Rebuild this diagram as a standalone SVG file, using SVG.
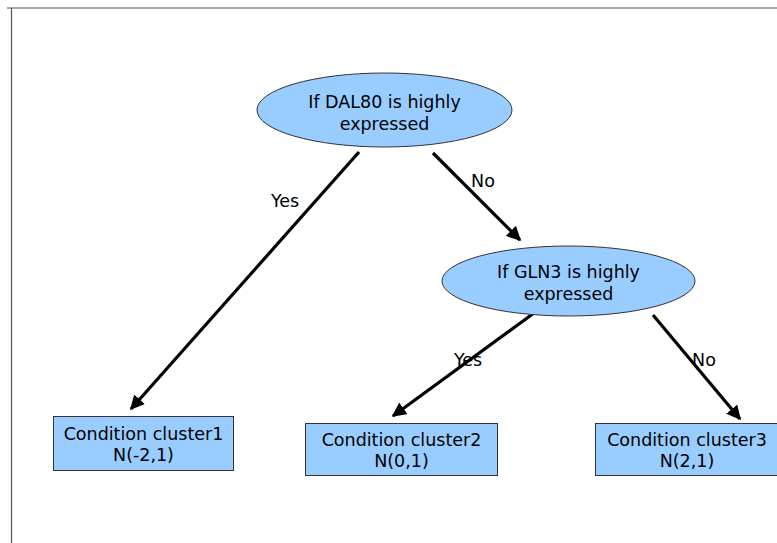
<svg xmlns="http://www.w3.org/2000/svg" width="777" height="543" viewBox="0 0 777 543">
<defs>
<marker id="ah" viewBox="0 0 10 10" refX="9" refY="5" markerWidth="4.5" markerHeight="4.5" orient="auto" markerUnits="strokeWidth">
<path d="M0,0 L10,5 L0,10 Z" fill="#000"/>
</marker>
<style>
.n{fill:#99ccff;stroke:#333;stroke-width:1}
.t{font-family:"DejaVu Sans",sans-serif;font-size:17.5px;fill:#000;text-anchor:middle}
.c{stroke:#000;stroke-width:3.2;fill:none;marker-end:url(#ah)}
</style>
</defs>
<rect width="777" height="543" fill="#fff"/>
<path d="M7,8 H777 M11.5,8 V543" stroke="#555" stroke-width="1.2" fill="none"/>
<g id="connectors">
<line class="c" x1="359" y1="152" x2="131" y2="409"/>
<line class="c" x1="433" y1="153" x2="520" y2="240"/>
<line class="c" x1="534" y1="313" x2="393" y2="416"/>
<line class="c" x1="653" y1="315" x2="740" y2="419"/>
<text class="t" x="285" y="207">Yes</text>
<text class="t" x="483" y="187">No</text>
<text class="t" x="468" y="366">Yes</text>
<text class="t" x="704" y="366">No</text>
</g>
<g id="q1">
<ellipse class="n" cx="384.5" cy="110" rx="127.5" ry="37"/>
<text class="t" x="384.5" y="108">If DAL80 is highly</text>
<text class="t" x="384.5" y="130">expressed</text>
</g>
<g id="q2">
<ellipse class="n" cx="568.5" cy="281" rx="126.5" ry="35"/>
<text class="t" x="568.5" y="278">If GLN3 is highly</text>
<text class="t" x="568.5" y="300">expressed</text>
</g>
<g id="c1">
<rect class="n" x="53.5" y="416.5" width="180" height="54"/>
<text class="t" x="143.5" y="440">Condition cluster1</text>
<text class="t" x="143.5" y="461">N(-2,1)</text>
</g>
<g id="c2">
<rect class="n" x="305.5" y="423.5" width="192" height="52"/>
<text class="t" x="401.5" y="446">Condition cluster2</text>
<text class="t" x="401.5" y="467">N(0,1)</text>
</g>
<g id="c3">
<rect class="n" x="595.5" y="423.5" width="184" height="52"/>
<text class="t" x="687" y="446">Condition cluster3</text>
<text class="t" x="687" y="467">N(2,1)</text>
</g>
</svg>
